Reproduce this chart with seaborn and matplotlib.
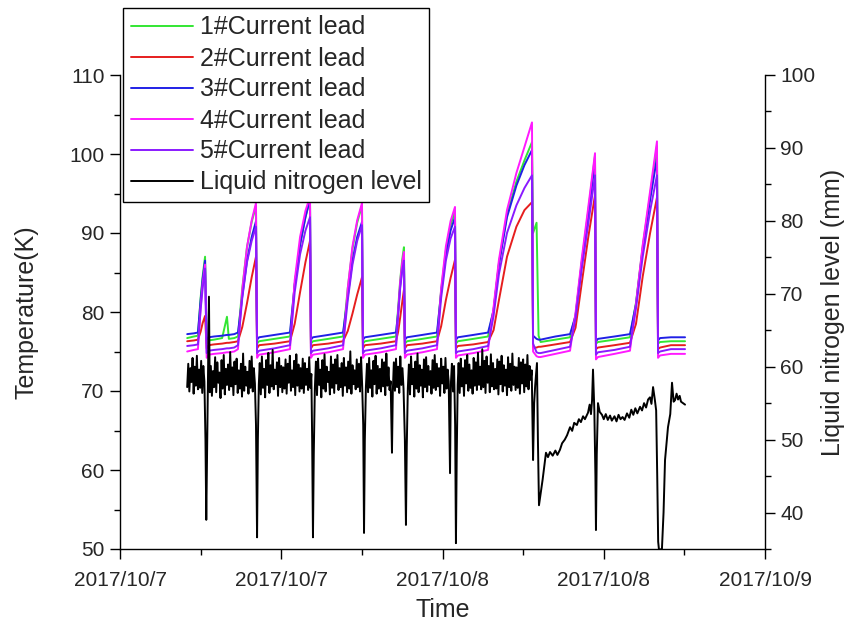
import matplotlib
matplotlib.use("Agg")
import matplotlib.pyplot as plt
from matplotlib.ticker import MultipleLocator, FixedLocator
import seaborn as sns
import numpy as np

# ---------------- data (hours since 2017/10/7 00:00) ----------------
t_hours = [5.0, 5.5, 5.8, 6.0, 6.15, 6.33, 6.45, 6.6, 7.0, 7.6,
           7.96, 8.1, 8.5, 8.78, 9.1, 9.45, 9.8, 10.12, 10.2, 10.35,
           11.5, 12.65, 13.0, 13.4, 13.8, 14.14, 14.21, 14.36, 15.5, 16.6,
           16.95, 17.3, 17.65, 18.01, 18.08, 18.23, 19.4, 20.54, 20.7, 20.85,
           21.0, 21.13, 21.2, 21.36, 22.5, 23.59, 23.9, 24.25, 24.6, 24.93,
           25.0, 25.15, 26.3, 27.39, 27.8, 28.2, 28.8, 29.5, 30.1, 30.66,
           30.74, 31.0, 31.15, 31.3, 32.4, 33.49, 33.9, 34.35, 34.85, 35.35,
           35.42, 35.57, 36.8, 37.95, 38.4, 38.9, 39.45, 39.96, 40.04, 40.19,
           41.0, 42.05]

lead1 = [76.7, 76.9, 77.0, 81.8, 84.5, 87.0, 76.0, 76.4, 76.5, 76.7,
         79.4, 76.6, 76.7, 76.9, 83.0, 88.2, 91.4, 93.4, 76.0, 76.3,
         76.6, 76.9, 83.5, 88.6, 92.0, 94.2, 76.0, 76.3, 76.6, 76.9,
         83.0, 88.0, 91.3, 93.5, 76.0, 76.3, 76.6, 76.9, 80.5, 84.0,
         86.6, 88.2, 76.0, 76.3, 76.6, 76.9, 82.8, 87.8, 91.0, 92.8,
         76.0, 76.3, 76.6, 76.9, 80.3, 86.2, 92.3, 96.5, 99.2, 101.5,
         90.0, 91.3, 77.0, 76.2, 76.5, 76.8, 79.6, 86.2, 92.8, 99.8,
         76.0, 76.2, 76.5, 76.8, 81.2, 88.3, 94.8, 101.0, 76.0, 76.2,
         76.3, 76.3]

lead2 = [76.3, 76.4, 76.5, 77.5, 78.6, 79.5, 75.4, 75.8, 75.9, 76.0,
         76.1, 76.1, 76.2, 76.3, 78.1, 81.1, 84.4, 87.0, 75.4, 75.8,
         76.0, 76.3, 78.5, 82.5, 86.3, 89.0, 75.4, 75.8, 76.0, 76.3,
         77.6, 79.8, 82.2, 84.4, 75.4, 75.8, 76.0, 76.3, 77.5, 79.3,
         81.2, 82.8, 75.4, 75.8, 76.0, 76.3, 78.2, 81.5, 84.3, 86.6,
         75.4, 75.7, 75.9, 76.2, 77.7, 81.5, 87.0, 90.8, 92.9, 93.9,
         75.5, 75.5, 75.6, 75.6, 75.9, 76.2, 78.0, 83.5, 89.5, 94.8,
         75.3, 75.5, 75.8, 76.1, 78.5, 84.5, 90.0, 94.5, 75.3, 75.5,
         75.8, 75.8]

lead3 = [77.2, 77.3, 77.4, 81.5, 84.2, 86.5, 76.5, 76.8, 76.9, 77.0,
         77.1, 77.1, 77.2, 77.4, 82.0, 86.5, 89.5, 91.5, 76.5, 76.8,
         77.1, 77.4, 83.5, 88.5, 92.0, 94.3, 76.5, 76.8, 77.1, 77.4,
         82.0, 86.5, 89.5, 91.4, 76.5, 76.8, 77.1, 77.4, 80.0, 83.3,
         85.6, 87.0, 76.5, 76.8, 77.1, 77.4, 82.5, 87.2, 90.3, 92.0,
         76.5, 76.8, 77.1, 77.4, 80.2, 86.0, 92.0, 96.0, 98.6, 100.5,
         77.0, 76.6, 76.5, 76.5, 76.9, 77.2, 79.5, 86.0, 92.3, 99.0,
         76.3, 76.6, 76.9, 77.2, 81.0, 88.0, 94.2, 99.5, 76.4, 76.7,
         76.8, 76.8]

lead4 = [75.0, 75.2, 75.3, 80.5, 83.5, 86.0, 74.2, 74.6, 74.7, 74.8,
         74.9, 74.9, 75.0, 75.3, 82.8, 88.2, 91.6, 93.8, 74.2, 74.6,
         74.9, 75.3, 84.0, 89.5, 92.8, 94.6, 74.2, 74.6, 74.9, 75.3,
         83.0, 88.3, 91.6, 93.8, 74.2, 74.6, 74.9, 75.3, 80.0, 83.8,
         86.2, 87.6, 74.2, 74.6, 74.9, 75.3, 83.0, 88.3, 91.5, 93.3,
         74.2, 74.5, 74.8, 75.2, 80.6, 86.6, 92.9, 97.6, 100.9, 104.0,
         75.0, 74.4, 74.3, 74.3, 74.7, 75.1, 79.9, 86.6, 93.3, 100.1,
         74.0, 74.3, 74.7, 75.1, 81.0, 88.5, 95.3, 101.6, 74.2, 74.5,
         74.7, 74.7]

lead5 = [75.7, 75.8, 75.9, 80.3, 83.0, 85.5, 74.8, 75.1, 75.2, 75.3,
         75.4, 75.4, 75.5, 75.8, 81.8, 86.3, 89.0, 90.8, 74.8, 75.1,
         75.4, 75.8, 82.5, 87.3, 90.3, 92.0, 74.8, 75.1, 75.4, 75.8,
         81.5, 86.0, 89.0, 91.0, 74.8, 75.1, 75.4, 75.8, 79.5, 83.0,
         85.2, 86.5, 74.8, 75.1, 75.4, 75.8, 81.8, 86.5, 89.3, 90.8,
         74.8, 75.0, 75.3, 75.7, 79.5, 84.8, 90.0, 93.5, 95.7, 97.3,
         76.0, 74.9, 74.8, 74.8, 75.2, 75.6, 79.2, 85.3, 91.2, 97.3,
         74.6, 74.9, 75.2, 75.6, 80.5, 87.0, 92.8, 97.3, 74.8, 75.0,
         75.3, 75.3]

ln2_hours = [
    # A
    5.00, 5.08, 5.16, 5.24, 5.32, 5.40, 5.48, 5.56, 5.64, 5.72,
    5.80, 5.88, 5.96, 6.04, 6.12, 6.20, 6.28,
    6.36, 6.42, 6.48, 6.55, 6.62, 6.68,
    # B
    6.76, 6.84, 6.92, 7.00, 7.08, 7.16, 7.24, 7.32, 7.40, 7.48,
    7.56, 7.64, 7.72, 7.80, 7.88, 7.96, 8.04, 8.12, 8.20, 8.28,
    8.36, 8.44, 8.52, 8.60, 8.68, 8.76, 8.84, 8.92, 9.00, 9.08,
    9.16, 9.24, 9.32, 9.40, 9.48, 9.56, 9.64, 9.72, 9.80, 9.88,
    9.96, 10.04,
    10.12, 10.20, 10.26, 10.33,
    # C
    10.40, 10.48, 10.56, 10.64, 10.72, 10.80, 10.88, 10.96, 11.04, 11.12,
    11.20, 11.28, 11.36, 11.44, 11.52, 11.60, 11.68, 11.76, 11.84, 11.92,
    12.00, 12.08, 12.16, 12.24, 12.32, 12.40, 12.48, 12.56, 12.64, 12.72,
    12.80, 12.88, 12.96, 13.04, 13.12, 13.20, 13.28, 13.36, 13.44, 13.52,
    13.60, 13.68, 13.76, 13.84, 13.92, 14.00, 14.08, 14.16, 14.24,
    14.30, 14.36, 14.42, 14.50,
    # D
    14.58, 14.66, 14.74, 14.82, 14.90, 14.98, 15.06, 15.14, 15.22, 15.30,
    15.38, 15.46, 15.54, 15.62, 15.70, 15.78, 15.86, 15.94, 16.02, 16.10,
    16.18, 16.26, 16.34, 16.42, 16.50, 16.58, 16.66, 16.74, 16.82, 16.90,
    16.98, 17.06, 17.14, 17.22, 17.30, 17.38, 17.46, 17.54, 17.62, 17.70,
    17.78, 17.86, 17.94, 18.02,
    18.10, 18.16, 18.22, 18.30,
    # E
    18.38, 18.46, 18.54, 18.62, 18.70, 18.78, 18.86, 18.94, 19.02, 19.10,
    19.18, 19.26, 19.34, 19.42, 19.50, 19.58, 19.66, 19.74, 19.82, 19.90,
    19.98, 20.06, 20.14,
    20.20, 20.24, 20.30,
    # F
    20.38, 20.46, 20.54, 20.62, 20.70, 20.78, 20.86, 20.94, 21.02, 21.10,
    21.20, 21.28, 21.34, 21.42,
    # G
    21.50, 21.58, 21.66, 21.74, 21.82, 21.90, 21.98, 22.06, 22.14, 22.22,
    22.30, 22.38, 22.46, 22.54, 22.62, 22.70, 22.78, 22.86, 22.94, 23.02,
    23.10, 23.18, 23.26, 23.34, 23.42, 23.50, 23.58, 23.66, 23.74, 23.82,
    23.90, 23.98, 24.06, 24.14, 24.22, 24.30, 24.38, 24.46,
    24.52, 24.56, 24.62, 24.70, 24.78, 24.86, 24.94, 25.00, 25.06, 25.13,
    # H
    25.20, 25.28, 25.36, 25.44, 25.52, 25.60, 25.68, 25.76, 25.84, 25.92,
    26.00, 26.08, 26.16, 26.24, 26.32, 26.40, 26.48, 26.56, 26.64, 26.72,
    26.80, 26.88, 26.96, 27.04, 27.12, 27.20, 27.28, 27.36, 27.44, 27.52,
    27.60, 27.68, 27.76, 27.84, 27.92, 28.00, 28.08, 28.16, 28.24, 28.32,
    28.40, 28.48, 28.56, 28.64, 28.72, 28.80, 28.88, 28.96, 29.04, 29.12,
    29.20, 29.28, 29.36, 29.44, 29.52, 29.60, 29.68, 29.76, 29.84, 29.92,
    30.00, 30.08, 30.16, 30.24, 30.32, 30.40, 30.48, 30.56,
    # after the big drop
    30.64, 30.70, 30.74, 30.82, 30.90, 31.03, 31.10, 31.18, 31.45, 31.70,
    31.85, 32.00, 32.20, 32.40, 32.55, 32.74, 32.90, 33.10, 33.27, 33.49,
    33.65, 33.80, 34.00, 34.15, 34.30, 34.46, 34.60, 34.83, 34.95, 35.05,
    35.13, 35.20, 35.30, 35.38, 35.42, 35.48, 35.57, 35.70, 35.87, 36.00,
    36.15, 36.30, 36.47, 36.60, 36.80, 36.95, 37.10, 37.25, 37.40, 37.55,
    37.73, 37.90, 38.05, 38.20, 38.35, 38.50, 38.70, 38.85, 39.00, 39.15,
    39.30, 39.44, 39.55, 39.67, 39.80, 39.90, 39.98, 40.05, 40.11, 40.33,
    40.45, 40.56, 40.78, 40.95, 41.08, 41.20, 41.30, 41.42, 41.53, 41.65,
    41.75, 41.90, 42.05]

ln2_level = [
    # A
    57.2, 60.4, 56.6, 59.8, 57.9, 61.2, 56.3, 60.0, 57.4, 61.5,
    56.9, 59.6, 57.1, 60.8, 56.4, 60.1, 58.0,
    50.0, 39.0, 48.0, 58.0, 69.6, 56.5,
    # B
    60.1, 56.0, 59.4, 57.2, 61.3, 56.5, 60.6, 57.8, 59.2, 55.7,
    60.9, 57.0, 61.6, 56.2, 59.7, 57.5, 60.3, 56.8, 62.0, 57.3,
    59.9, 56.1, 60.7, 57.6, 61.1, 56.4, 59.5, 57.0, 60.4, 55.9,
    61.8, 56.7, 60.0, 57.4, 59.3, 56.3, 60.8, 57.1, 61.4, 56.6,
    59.8, 57.7,
    52.0, 36.6, 50.0, 57.5,
    # C
    60.5, 56.2, 61.4, 57.1, 59.7, 55.8, 60.9, 57.5, 61.9, 56.4,
    60.2, 57.3, 62.3, 56.9, 59.6, 57.6, 60.6, 56.0, 61.2, 57.2,
    60.1, 56.5, 59.9, 57.0, 61.0, 56.3, 60.4, 57.8, 61.5, 56.7,
    59.5, 57.2, 60.8, 56.1, 61.7, 57.4, 60.3, 56.6, 59.8, 57.0,
    61.1, 56.4, 60.5, 57.5, 59.7, 56.8, 61.3, 57.1, 59.0,
    50.0, 36.6, 48.0, 57.0,
    # D
    60.7, 56.1, 61.1, 57.5, 59.6, 55.8, 60.9, 57.0, 61.7, 56.6,
    60.0, 57.9, 59.3, 56.2, 61.4, 57.1, 60.3, 56.4, 61.0, 57.7,
    61.6, 56.8, 59.8, 57.2, 60.5, 56.0, 61.2, 57.4, 59.9, 56.5,
    60.7, 57.0, 62.1, 56.3, 60.2, 57.6, 59.5, 56.9, 61.0, 57.2,
    60.4, 56.6, 61.3, 57.5,
    52.0, 37.2, 50.0, 57.2,
    # E
    60.4, 56.5, 61.2, 57.1, 59.5, 55.9, 60.8, 57.6, 61.5, 56.3,
    60.1, 57.0, 59.7, 56.6, 61.0, 57.3, 60.6, 56.1, 61.8, 57.4,
    59.9, 56.8, 58.0,
    52.0, 48.2, 56.5,
    # F
    60.6, 56.7, 61.1, 57.2, 60.0, 56.4, 61.4, 57.5, 59.8, 57.0,
    50.0, 38.3, 49.0, 57.0,
    # G
    60.3, 56.2, 61.4, 57.6, 59.7, 55.9, 60.7, 57.0, 61.8, 56.5,
    60.2, 57.4, 59.6, 55.8, 61.0, 57.2, 61.3, 56.6, 60.1, 57.5,
    59.4, 56.3, 60.9, 57.1, 61.6, 56.8, 60.4, 57.3, 59.8, 56.0,
    61.1, 57.7, 60.0, 56.4, 61.2, 57.0, 59.6, 58.0,
    50.0, 45.4, 57.5, 60.4, 56.6, 60.1, 52.0, 35.8, 48.0, 57.5,
    # H
    60.5, 56.4, 61.1, 57.3, 59.8, 56.0, 60.9, 57.7, 61.6, 56.7,
    60.3, 57.1, 59.5, 56.3, 61.2, 57.4, 60.6, 56.8, 61.9, 57.5,
    60.0, 56.9, 62.4, 57.2, 60.8, 56.4, 61.4, 57.8, 60.1, 56.5,
    61.7, 57.3, 60.5, 56.9, 59.7, 57.0, 61.0, 56.2, 60.7, 57.6,
    61.5, 56.6, 60.2, 57.4, 59.6, 56.1, 61.3, 57.2, 60.4, 56.7,
    61.8, 57.5, 60.0, 56.8, 59.9, 57.1, 61.2, 56.3, 60.6, 57.7,
    61.0, 56.5, 60.3, 57.3, 61.6, 56.9, 60.1, 58.2,
    # after the big drop
    59.5, 52.0, 47.2, 55.0, 57.5, 60.5, 50.0, 41.0, 44.5, 48.2,
    47.6, 48.3, 47.8, 48.5, 47.9, 48.6, 49.5, 50.0, 50.6, 51.7,
    51.2, 52.3, 52.0, 52.8, 52.4, 53.2, 52.8, 53.7, 54.8, 53.5,
    55.4, 59.6, 54.0, 45.0, 37.6, 48.0, 55.0, 53.8, 53.4, 52.8,
    53.5, 52.7, 53.3, 52.6, 53.2, 52.5, 53.4, 52.8, 53.1, 52.7,
    53.6, 53.0, 54.1, 53.4, 54.3, 53.6, 54.5, 54.0, 55.0, 54.4,
    55.5, 55.8, 54.9, 57.2, 55.5, 54.0, 45.0, 36.0, 34.9, 35.0,
    40.0, 47.2, 51.7, 53.5, 57.8, 55.2, 55.4, 56.3, 55.5, 56.0,
    55.2, 55.0, 54.8]

series_labels = ["1#Current lead", "2#Current lead", "3#Current lead",
                 "4#Current lead", "5#Current lead"]
ln2_label = "Liquid nitrogen level"
x_tick_hours = [0, 12, 24, 36, 48]
x_tick_labels = ["2017/10/7", "2017/10/7", "2017/10/8", "2017/10/8", "2017/10/9"]

if len(ln2_hours) != len(ln2_level):
    raise SystemExit(f"length mismatch {len(ln2_hours)} vs {len(ln2_level)}")

# ---------------- style ----------------
sns.set_style("ticks")
plt.rcParams["font.family"] = ["Liberation Sans", "DejaVu Sans"]
plt.rcParams["xtick.direction"] = "out"
plt.rcParams["ytick.direction"] = "out"

colors = ["#33e633", "#e61e1e", "#2020e6", "#ff1aff", "#8a1aff"]

fig = plt.figure(figsize=(8.46, 6.26), dpi=100)
ax = fig.add_axes([120 / 846, 1 - 549 / 626, (765 - 120) / 846, (549 - 75) / 626])
ax2 = ax.twinx()

series = [lead1, lead2, lead3, lead4, lead5]
for vals, col, lab in zip(series, colors, series_labels):
    sns.lineplot(x=t_hours, y=vals, ax=ax, color=col, lw=1.4, label=lab,
                 sort=False, estimator=None)
sns.lineplot(x=ln2_hours, y=ln2_level, ax=ax2, color="black", lw=1.4,
             label=ln2_label, sort=False, estimator=None)

ax.set_xlim(0, 48)
ax.set_ylim(50, 110)
ax2.set_ylim(35, 100)

ax.xaxis.set_major_locator(FixedLocator(x_tick_hours))
ax.set_xticklabels(x_tick_labels)
ax.xaxis.set_minor_locator(MultipleLocator(6))
ax.yaxis.set_major_locator(MultipleLocator(10))
ax.yaxis.set_minor_locator(MultipleLocator(5))
ax2.yaxis.set_major_locator(MultipleLocator(10))
ax2.yaxis.set_minor_locator(MultipleLocator(5))

for a in (ax, ax2):
    a.spines["top"].set_visible(False)
    a.tick_params(which="major", length=7, width=1.0, labelsize=15,
                  color="black", pad=4)
    a.tick_params(which="minor", length=4, width=1.0, color="black")
    for s in a.spines.values():
        s.set_color("black")
        s.set_linewidth(1.0)
ax.tick_params(axis="x", which="major", pad=9)
ax.spines["right"].set_visible(False)
ax2.spines["left"].set_visible(False)
ax2.spines["bottom"].set_visible(False)

ax.set_xlabel("Time", fontsize=18)
ax.set_ylabel("Temperature(K)", fontsize=18)
ax2.set_ylabel("Liquid nitrogen level (mm)", fontsize=18)
ax.xaxis.set_label_coords(0.5, -0.103)
ax.yaxis.set_label_coords(-0.127, 0.5)
ax2.yaxis.set_label_coords(1.087, 0.5)

h1, l1 = ax.get_legend_handles_labels()
h2, l2 = ax2.get_legend_handles_labels()
if ax.get_legend() is not None:
    ax.get_legend().remove()
if ax2.get_legend() is not None:
    ax2.get_legend().remove()

leg = fig.legend(h1 + h2, l1 + l2, loc="upper left",
                 bbox_to_anchor=(123 / 846, 1 - 8 / 626),
                 fontsize=18, frameon=True, fancybox=False, framealpha=1,
                 edgecolor="black", handlelength=2.5, handletextpad=0.28,
                 labelspacing=0.28, borderpad=0.3, borderaxespad=0)
leg.get_frame().set_linewidth(1.0)
for lh in leg.get_lines():
    lh.set_linewidth(1.4)

fig.savefig("out.png", dpi=100)
